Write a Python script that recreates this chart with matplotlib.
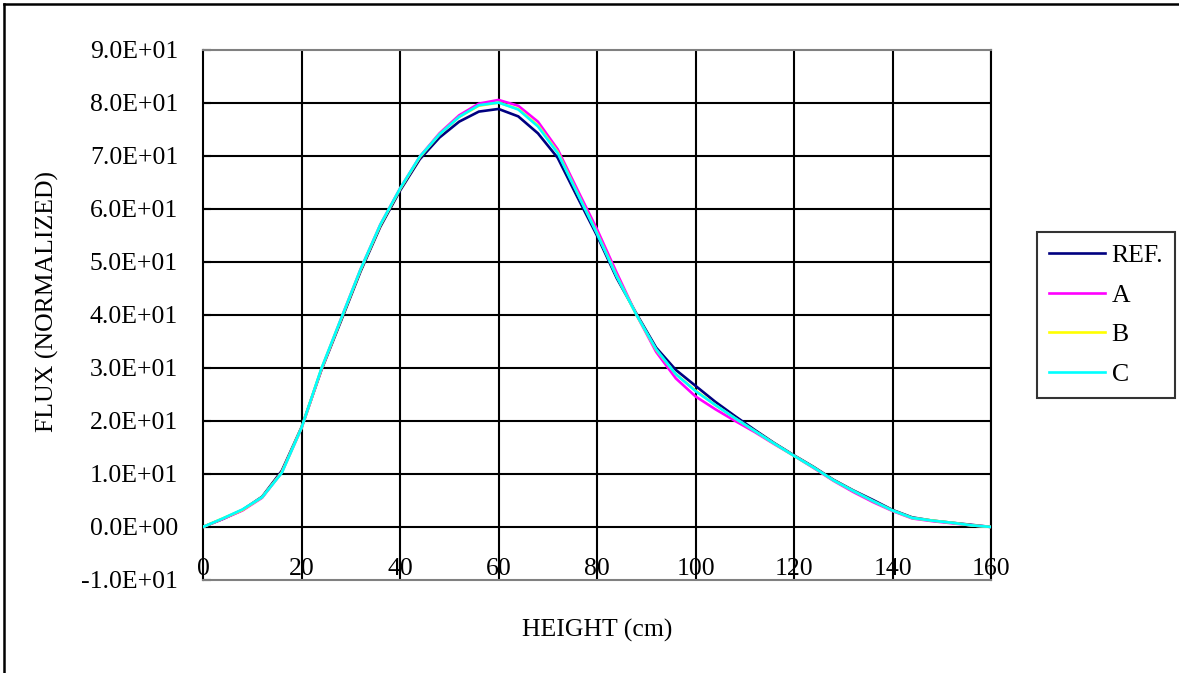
"""Normalized flux profile versus height for the reference case and cases A-C."""

import matplotlib.pyplot as plt
from matplotlib.lines import Line2D

FONT = "Liberation Serif"
FONT_SIZE = 18.5

# Height (cm)
HEIGHT = [0, 4, 8, 12, 16, 20, 24, 28, 32, 36, 40, 44, 48, 52, 56, 60, 64,
          68, 72, 76, 80, 84, 88, 92, 96, 100, 104, 108, 112, 116, 120, 124,
          128, 132, 136, 140, 144, 148, 152, 156, 160]

# Normalized flux for each case
FLUX_REF = [0.0, 1.5, 3.2, 5.7, 10.6, 18.8, 29.5, 38.8, 48.2, 56.6, 63.4,
            69.3, 73.4, 76.4, 78.3, 78.8, 77.4, 74.2, 69.6, 62.2, 54.9,
            46.9, 40.2, 33.8, 29.6, 26.6, 23.6, 20.9, 18.3, 15.8, 13.5,
            11.3, 8.9, 6.9, 5.1, 3.2, 1.8, 1.2, 0.8, 0.4, 0.0]
FLUX_A = [0.0, 1.5, 3.1, 5.5, 10.3, 18.6, 29.6, 39.2, 48.6, 57.0, 63.8,
          69.8, 74.2, 77.6, 79.8, 80.5, 79.4, 76.4, 71.2, 63.6, 56.1,
          47.9, 40.0, 33.0, 28.0, 24.6, 22.2, 20.0, 17.9, 15.6, 13.4,
          11.1, 8.7, 6.6, 4.7, 3.0, 1.6, 1.1, 0.7, 0.3, 0.0]
FLUX_B = [0.0, 1.6, 3.2, 5.6, 10.3, 18.7, 29.7, 39.1, 48.5, 56.9, 63.7,
          69.7, 74.0, 77.3, 79.4, 80.0, 78.8, 75.7, 70.7, 63.0, 55.4,
          47.3, 40.0, 33.4, 28.8, 25.7, 23.0, 20.5, 18.1, 15.7, 13.4,
          11.2, 8.8, 6.8, 4.9, 3.1, 1.7, 1.2, 0.8, 0.3, 0.0]
FLUX_C = [0.0, 1.6, 3.3, 5.6, 10.2, 18.7, 29.8, 39.2, 48.6, 57.0, 63.8,
          69.8, 74.0, 77.3, 79.5, 80.0, 78.7, 75.5, 70.5, 62.9, 55.3,
          47.2, 40.0, 33.5, 28.8, 25.6, 23.0, 20.5, 18.1, 15.7, 13.4,
          11.2, 8.8, 6.8, 4.9, 3.1, 1.7, 1.2, 0.8, 0.3, 0.0]

SERIES = [
    ("REF.", FLUX_REF, "#000080"),
    ("A", FLUX_A, "#FF00FF"),
    ("B", FLUX_B, "#FFFF00"),
    ("C", FLUX_C, "#00FFFF"),
]

X_TICKS = [0, 20, 40, 60, 80, 100, 120, 140, 160]
Y_TICKS = [-10, 0, 10, 20, 30, 40, 50, 60, 70, 80, 90]


def sci_label(value):
    """Format a tick value like 8.0E+01."""
    if value == 0:
        return "0.0E+00"
    sign = "-" if value < 0 else ""
    return f"{sign}{abs(value) / 10:.1f}E+01"


def main():

    plt.rcParams["font.family"] = [FONT, "DejaVu Serif"]
    plt.rcParams["font.size"] = FONT_SIZE

    fig = plt.figure(figsize=(11.79, 6.73), dpi=100)
    ax = fig.add_axes([0.1722, 0.1382, 0.6684, 0.7882])

    # Curves
    for label, flux, color in SERIES:
        ax.plot(HEIGHT, flux, color=color, lw=1.9, label=label, zorder=3)

    # Axes limits and grid
    ax.set_xlim(0, 160)
    ax.set_ylim(-10, 90)
    ax.set_xticks(X_TICKS)
    ax.set_yticks(Y_TICKS)
    ax.set_yticklabels([sci_label(v) for v in Y_TICKS])
    for x in X_TICKS[1:]:
        ax.axvline(x, color="black", lw=1.5, zorder=1)
    for y in Y_TICKS[1:-1]:
        ax.axhline(y, color="black", lw=1.5, zorder=1)

    ax.spines["left"].set_color("black")
    ax.spines["top"].set_color("#808080")
    ax.spines["bottom"].set_color("#808080")
    ax.spines["right"].set_color("black")
    for side in ("left", "top", "bottom", "right"):
        ax.spines[side].set_linewidth(1.5)

    ax.tick_params(axis="y", direction="in", length=6, width=1.5, pad=18)
    ax.tick_params(axis="x", length=0, pad=-16)

    # Axis titles
    fig.text(47 / 1179, 1 - 302 / 673, "FLUX (NORMALIZED)", rotation=90,
             ha="center", va="center")
    fig.text(597 / 1179, 1 - 630 / 673, "HEIGHT (cm)", ha="center",
             va="center")

    # Legend
    leg = ax.legend(loc="center left", bbox_to_anchor=(1037 / 1179, 1 - 315 / 673),
                    bbox_transform=fig.transFigure, frameon=True, fancybox=False,
                    handlelength=2.2, handletextpad=0.25, labelspacing=0.65,
                    borderpad=0.45, borderaxespad=0)
    leg.get_frame().set_edgecolor("black")
    leg.get_frame().set_linewidth(1.5)

    # Outer frame
    fig.add_artist(Line2D([4 / 1179, 4 / 1179], [0, 1 - 4 / 673],
                          color="black", lw=1.8, transform=fig.transFigure))
    fig.add_artist(Line2D([4 / 1179, 1], [1 - 4 / 673, 1 - 4 / 673],
                          color="black", lw=1.8, transform=fig.transFigure))

    fig.savefig("out.png", dpi=100, facecolor="white")


if __name__ == "__main__":
    main()
